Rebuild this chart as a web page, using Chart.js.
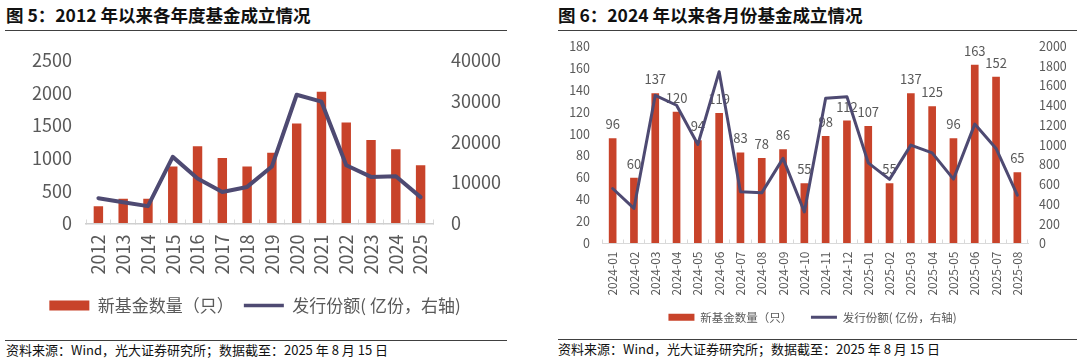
<!DOCTYPE html>
<html lang="zh-CN">
<head>
<meta charset="utf-8">
<script src="https://cdn.jsdelivr.net/npm/chart.js@4/dist/chart.umd.min.js"></script>
<style>
  html, body { margin: 0; padding: 0; background: #fff; }
  body { width: 1080px; height: 362px; position: relative; overflow: hidden;
         font-family: "Noto Sans CJK SC", "Noto Sans", sans-serif; }
  .title { position: absolute; font-weight: 700; font-size: 17.5px; color: #111; line-height: 20px; white-space: nowrap; }
  .rule { position: absolute; height: 0; border-top: 1.5px solid #404040; }
  .src { position: absolute; font-size: 13px; color: #111; line-height: 16px; white-space: nowrap; }
  canvas { position: absolute; }
</style>
</head>
<body>
<div class="title" style="left:6px; top:5px;">图 5：2012 年以来各年度基金成立情况</div>
<div class="rule" style="left:5px; top:30px; width:502px;"></div>
<div class="title" style="left:558px; top:5px;">图 6：2024 年以来各月份基金成立情况</div>
<div class="rule" style="left:558px; top:30px; width:519px;"></div>

<canvas id="c1" width="510" height="284" style="left:0px; top:40px; width:510px; height:284px;"></canvas>
<canvas id="c2" width="535" height="303" style="left:545px; top:30px; width:535px; height:303px;"></canvas>

<div class="rule" style="left:5px; top:340px; width:502px;"></div>
<div class="src" style="left:6px; top:342px;">资料来源：Wind，光大证券研究所；数据截至：2025 年 8 月 15 日</div>
<div class="rule" style="left:558px; top:339px; width:519px;"></div>
<div class="src" style="left:558px; top:341px;">资料来源：Wind，光大证券研究所；数据截至：2025 年 8 月 15 日</div>

<script>
// ---------- Data: chart 1 (annual) ----------
const yearLabels = ['2012','2013','2014','2015','2016','2017','2018','2019','2020','2021','2022','2023','2024','2025'];
const yearFundCount = [265, 380, 380, 870, 1180, 1000, 870, 1080, 1530, 2015, 1545, 1275, 1135, 890];
const yearIssueShares = [6200, 5200, 4250, 16300, 11000, 7700, 8950, 13950, 31500, 29800, 14250, 11400, 11550, 6450];

// ---------- Data: chart 2 (monthly) ----------
const monthLabels = ['2024-01','2024-02','2024-03','2024-04','2024-05','2024-06','2024-07','2024-08','2024-09','2024-10',
                     '2024-11','2024-12','2025-01','2025-02','2025-03','2025-04','2025-05','2025-06','2025-07','2025-08'];
const monthFundCount = [96, 60, 137, 120, 94, 119, 83, 78, 86, 55, 98, 112, 107, 55, 137, 125, 96, 163, 152, 65];
const monthIssueShares = [557, 355, 1500, 1400, 1003, 1740, 523, 513, 862, 320, 1470, 1486, 817, 649, 996, 918, 652, 1209, 963, 490];

const seriesNames = ['新基金数量（只）', '发行份额( 亿份，右轴)'];

const BAR_COLOR = '#C8432A';
const LINE_COLOR = '#4E4A72';
const TEXT_COLOR = '#595959';
const AXIS_COLOR = '#D9D9D9';

Chart.defaults.font.family = "'Noto Sans CJK SC', 'Noto Sans', sans-serif";
Chart.defaults.color = TEXT_COLOR;

const barLabels = {
  id: 'barLabels',
  afterDatasetDraw(chart, args, opts) {
    if (!opts || !opts.enabled || args.index !== 0) return;
    const ctx = chart.ctx;
    const ds = chart.data.datasets[0];
    ctx.save();
    ctx.font = opts.size + "px 'Noto Sans CJK SC', 'Noto Sans', sans-serif";
    ctx.fillStyle = TEXT_COLOR;
    ctx.textAlign = 'center';
    ctx.textBaseline = 'middle';
    args.meta.data.forEach((el, i) => {
      ctx.fillText(String(ds.data[i]), el.x, el.y - opts.offset);
    });
    ctx.restore();
  }
};

function legendLabels(lineWidth, extraGap) {
  return function (chart) {
    const items = Chart.defaults.plugins.legend.labels.generateLabels(chart)
      .sort((a, b) => a.datasetIndex - b.datasetIndex);
    items.forEach(it => {
      if (it.datasetIndex === 0) {
        it.pointStyle = 'rect';
        it.lineWidth = 0;
        it.fillStyle = BAR_COLOR;
        it.strokeStyle = BAR_COLOR;
        if (extraGap) it.text = it.text + extraGap;
      } else {
        it.pointStyle = 'line';
        it.lineWidth = lineWidth;
        it.strokeStyle = LINE_COLOR;
        it.fillStyle = LINE_COLOR;
      }
    });
    return items;
  };
}

// invisible tick marks provide the gap between the y axis labels and the plot
function yGap(len) {
  return { display: true, drawOnChartArea: false, drawTicks: true, tickLength: len, color: 'rgba(0,0,0,0)' };
}

function makeChart(id, cfg) {
  const chart = new Chart(document.getElementById(id), {
    type: 'bar',
    data: {
      labels: cfg.labels,
      datasets: [
        { type: 'bar', label: seriesNames[0], data: cfg.bars, yAxisID: 'y', order: 1,
          backgroundColor: BAR_COLOR, borderWidth: 0,
          categoryPercentage: 1.0, barPercentage: cfg.barPct },
        { type: 'line', label: seriesNames[1], data: cfg.line, yAxisID: 'y2', order: 0,
          borderColor: LINE_COLOR, backgroundColor: LINE_COLOR, borderWidth: cfg.lineW,
          pointRadius: 0, tension: 0, borderJoinStyle: 'round', borderCapStyle: 'round' }
      ]
    },
    plugins: [barLabels],
    options: {
      responsive: false,
      animation: false,
      layout: { padding: { top: cfg.areaTop, left: 0, right: 0, bottom: 0 } },
      plugins: {
        tooltip: { enabled: false },
        barLabels: { enabled: cfg.dataLabels, offset: 14, size: 13 },
        legend: {
          position: 'bottom',
          labels: {
            usePointStyle: true,
            pointStyleWidth: cfg.legendBoxW,
            boxHeight: cfg.legendBoxH,
            padding: cfg.legendPad,
            color: TEXT_COLOR,
            font: { size: cfg.legendFont },
            generateLabels: legendLabels(cfg.legendLineW, cfg.legendExtra)
          }
        }
      },
      scales: {
        x: {
          grid: { display: true, drawOnChartArea: false, drawTicks: true, tickLength: -4, color: AXIS_COLOR, offset: true },
          border: { display: true, color: cfg.axisColor, width: cfg.axisW },
          ticks: { autoSkip: false, minRotation: 90, maxRotation: 90, padding: cfg.xPad,
                   font: { size: cfg.xFont }, color: TEXT_COLOR },
          afterFit(s) { s.height = cfg.xHeight; }
        },
        y: {
          position: 'left', min: 0, max: cfg.yMax,
          grid: yGap(cfg.yPad), border: { display: false },
          ticks: { stepSize: cfg.yStep, padding: 0, font: { size: cfg.yFont }, color: TEXT_COLOR,
                   callback: v => String(v) },
          afterFit(s) { s.width = cfg.yWidth; }
        },
        y2: {
          position: 'right', min: 0, max: cfg.y2Max,
          grid: yGap(cfg.y2Pad), border: { display: false },
          ticks: { stepSize: cfg.y2Step, padding: 0, font: { size: cfg.yFont }, color: TEXT_COLOR,
                   callback: v => String(v) },
          afterFit(s) { s.width = cfg.y2Width; }
        }
      }
    }
  });
  // pin the plot-area top edge to the reference position
  for (let k = 0; k < 4; k++) {
    const d = cfg.areaTop - chart.chartArea.top;
    if (Math.abs(d) < 0.2) break;
    chart.options.layout.padding.top = Math.max(0, chart.options.layout.padding.top + d);
    chart.update('none');
  }
  return chart;
}

makeChart('c1', {
  labels: yearLabels, bars: yearFundCount, line: yearIssueShares,
  barPct: 0.38, lineW: 4, legendLineW: 3.5, areaTop: 20, dataLabels: false,
  legendBoxW: 40, legendBoxH: 10, legendPad: 10, legendFont: 17, legendExtra: '',
  axisColor: '#CFCFCF', axisW: 1.5, xPad: 15, xFont: 18, xHeight: 63.5,
  yMax: 2500, yStep: 500, yPad: 14, yFont: 18, yWidth: 86,
  y2Max: 40000, y2Step: 10000, y2Pad: 18, y2Width: 77
});

makeChart('c2', {
  labels: monthLabels, bars: monthFundCount, line: monthIssueShares,
  barPct: 0.36, lineW: 3, legendLineW: 3, areaTop: 16, dataLabels: true,
  legendBoxW: 26, legendBoxH: 7, legendPad: 13, legendFont: 11.5, legendExtra: '\u3000',
  axisColor: '#D9D9D9', axisW: 1, xPad: 12, xFont: 12, xHeight: 55,
  yMax: 180, yStep: 20, yPad: 12, yFont: 12.5, yWidth: 57,
  y2Max: 2000, y2Step: 200, y2Pad: 11, y2Width: 52
});
</script>
</body>
</html>
